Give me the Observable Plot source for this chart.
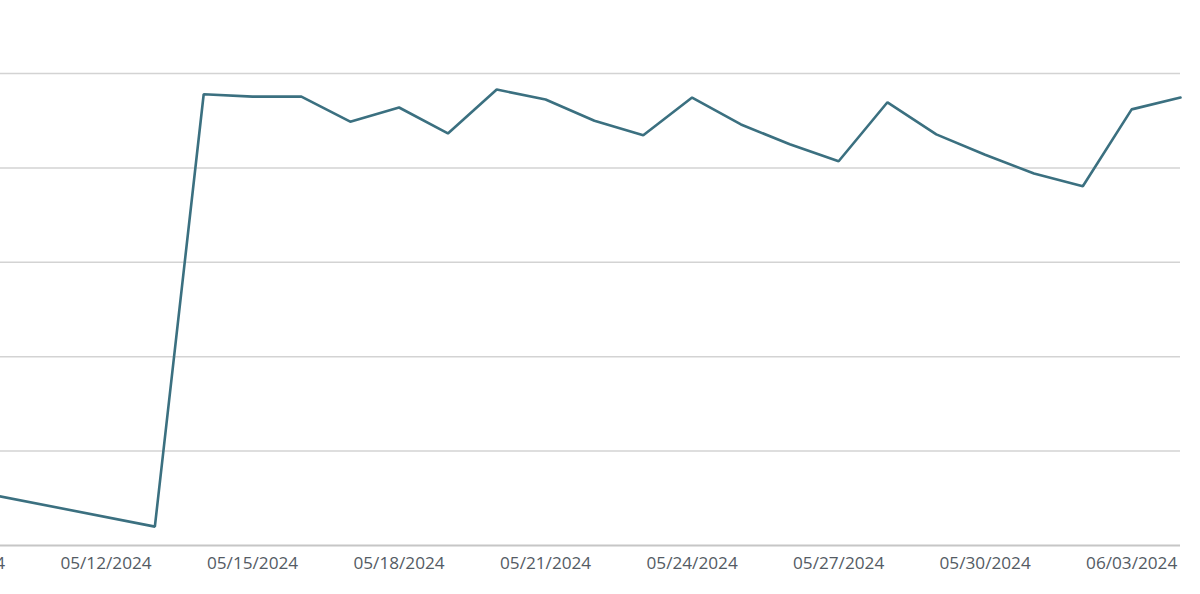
<!DOCTYPE html>
<html>
<head>
<meta charset="utf-8">
<script src="https://cdn.jsdelivr.net/npm/d3@7"></script>
<script src="https://cdn.jsdelivr.net/npm/@observablehq/plot@0.6"></script>
<style>
  html, body { margin: 0; padding: 0; background: #fff; overflow: hidden; }
  #chart svg { display: block; }
</style>
</head>
<body>
<div id="chart"></div>
<script>
// Category axis: every calendar day shown on the axis
const axisDates = [
  "05/09/2024","05/10/2024","05/11/2024","05/12/2024","05/13/2024","05/14/2024",
  "05/15/2024","05/16/2024","05/17/2024","05/18/2024","05/19/2024","05/20/2024",
  "05/21/2024","05/22/2024","05/23/2024","05/24/2024","05/25/2024","05/26/2024",
  "05/27/2024","05/28/2024","05/29/2024","05/30/2024","05/31/2024","06/01/2024",
  "06/03/2024","06/04/2024"
];
// Labelled ticks (every third category)
const tickLabels = [
  "05/09/2024","05/12/2024","05/15/2024","05/18/2024","05/21/2024",
  "05/24/2024","05/27/2024","05/30/2024","06/03/2024"
];
// Observed series (days with data)
const dates = [
  "05/09/2024","05/13/2024","05/14/2024","05/15/2024","05/16/2024","05/17/2024",
  "05/18/2024","05/19/2024","05/20/2024","05/21/2024","05/22/2024","05/23/2024",
  "05/24/2024","05/25/2024","05/26/2024","05/27/2024","05/28/2024","05/29/2024",
  "05/30/2024","05/31/2024","06/01/2024","06/03/2024","06/04/2024"
];
const values = [
  12.1, 4.0, 95.6, 95.1, 95.1, 89.8,
  92.8, 87.3, 96.6, 94.5, 90.0, 86.9,
  94.9, 89.2, 85.0, 81.4, 93.9, 87.1,
  82.8, 78.8, 76.1, 92.4, 94.9
];
const yTicks = [0, 20, 40, 60, 80, 100];

const data = dates.map((d, i) => ({date: d, value: values[i]}));

const chart = Plot.plot({
  width: 1200,
  height: 594,
  marginLeft: 0,
  marginRight: 20,
  marginTop: 73,
  marginBottom: 49,
  style: {fontFamily: "'Open Sans', sans-serif", background: "#fff"},
  x: {type: "point", domain: axisDates, range: [-41, 1180], padding: 0, round: false},
  y: {domain: [0, 100]},
  marks: [
    Plot.ruleY(yTicks.slice(1), {stroke: "#d3d3d3", strokeWidth: 1.5}),
    Plot.ruleY([0], {stroke: "#c6c6c6", strokeWidth: 2}),
    Plot.axisX({
      ticks: tickLabels,
      tickSize: 0,
      tickPadding: 11,
      fontSize: 17.2,
      color: "#545b64",
      label: null
    }),
    Plot.axisY({ticks: [], label: null, tickSize: 0}),
    Plot.line(data, {x: "date", y: "value", stroke: "#3b7080", strokeWidth: 2.6, strokeLinejoin: "miter"})
  ]
});
document.getElementById("chart").appendChild(chart);
</script>
</body>
</html>
